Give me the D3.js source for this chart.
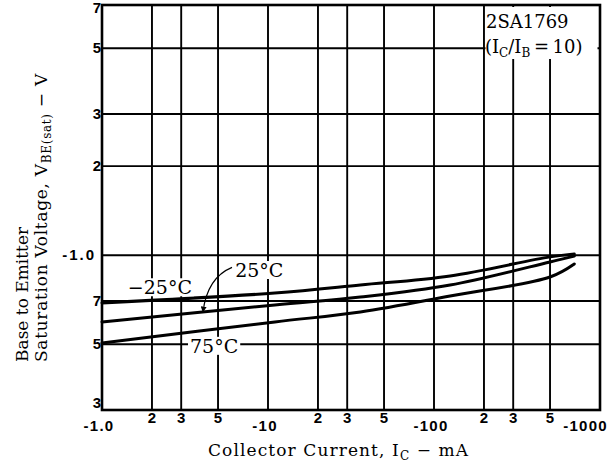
<!DOCTYPE html>
<html>
<head>
<meta charset="utf-8" />
<title>2SA1769 VBE(sat) - IC</title>
<script src="https://d3js.org/d3.v7.min.js"></script>
<style>
  body { margin: 0; background: #fff; }
  .tick { font-family: "Liberation Sans", Arial, sans-serif; font-weight: bold; font-size: 15px; }
  .serif { font-family: "DejaVu Serif", serif; }
</style>
</head>
<body>
<div id="chart"></div>
<script>
// collector current, mA (shown as negative on the axis)
const current = [1, 11, 36, 125, 500, 700];

// base-emitter saturation voltage, V (magnitude)
const vMinus25 = [0.690, 0.745, 0.793, 0.851, 0.987, 1.01];
const v25 = [0.595, 0.679, 0.722, 0.793, 0.949, 0.993];
const v75 = [0.505, 0.595, 0.643, 0.728, 0.844, 0.934];

// tick values and labels
const xTicks = [1, 2, 3, 5, 10, 20, 30, 50, 100, 200, 300, 500, 1000];
const xTickLabels = ['-1.0', '2', '3', '5', '-10', '2', '3', '5', '-100', '2', '3', '5', '-1000'];
const yTicks = [0.3, 0.5, 0.7, 1, 2, 3, 5, 7];
const yTickLabels = ['3', '5', '7', '-1.0', '2', '3', '5', '7'];

const width = 614;
const height = 465;
const pLeft = 102, pRight = 600, pTop = 5, pBottom = 410;

const svg = d3.select('#chart')
  .append('svg')
  .attr('width', width)
  .attr('height', height);

const x = d3.scaleLog().domain([1, 1000]).range([pLeft, pRight]);
const y = d3.scaleLog().domain([0.3, 7]).range([pBottom, pTop]);

// grid
const grid = svg.append('g').attr('stroke', '#000').attr('stroke-width', 1.9);
grid.selectAll('.vx')
  .data(xTicks)
  .enter()
  .append('line')
  .attr('x1', d => x(d)).attr('x2', d => x(d))
  .attr('y1', pTop).attr('y2', pBottom);
grid.selectAll('.hy')
  .data(yTicks)
  .enter()
  .append('line')
  .attr('x1', pLeft).attr('x2', pRight)
  .attr('y1', d => y(d)).attr('y2', d => y(d));

// frame
svg.append('rect')
  .attr('x', pLeft).attr('y', pTop)
  .attr('width', pRight - pLeft).attr('height', pBottom - pTop)
  .attr('fill', 'none').attr('stroke', '#000').attr('stroke-width', 2.6);

// tick labels
const isDecade = i => xTickLabels[i][0] === '-';
svg.selectAll('.xl')
  .data(xTicks)
  .enter()
  .append('text')
  .attr('class', 'tick')
  .attr('x', (d, i) => {
    if (d === 1000) return x(d) + 8;
    if (isDecade(i)) return x(d) - 3;
    return x(d);
  })
  .attr('y', (d, i) => isDecade(i) ? 431 : 423)
  .attr('text-anchor', d => d === 1000 ? 'end' : 'middle')
  .attr('letter-spacing', (d, i) => isDecade(i) ? 1.3 : 0)
  .text((d, i) => xTickLabels[i]);

svg.selectAll('.yl')
  .data(yTicks)
  .enter()
  .append('text')
  .attr('class', 'tick')
  .attr('x', d => d === 1 ? pLeft - 6 : pLeft - 1)
  .attr('y', d => y(d) + (d === 0.3 ? -2 : d === 7 ? 8 : 5))
  .attr('text-anchor', 'end')
  .attr('letter-spacing', d => d === 1 ? 2 : 0)
  .text((d, i) => yTickLabels[i]);

// legend box
svg.append('rect')
  .attr('x', x(200) + 1.5).attr('y', pTop + 2)
  .attr('width', pRight - x(200) - 4).attr('height', 52)
  .attr('fill', '#fff');
svg.append('text')
  .attr('class', 'serif')
  .attr('x', x(200) + 2).attr('y', 28)
  .style('font-size', '18px')
  .text('2SA1769');
const leg2 = svg.append('text')
  .attr('class', 'serif')
  .attr('x', x(200) + 1).attr('y', 53)
  .style('font-size', '18px');
leg2.append('tspan').text('(I');
leg2.append('tspan').attr('dy', 4).style('font-size', '12px').text('C');
leg2.append('tspan').attr('dy', -4).text('/I');
leg2.append('tspan').attr('dy', 4).style('font-size', '12px').text('B');
leg2.append('tspan').attr('dy', -4).text('\u2009=\u200910)');

// curves
const line = d3.line()
  .x(d => x(d[0]))
  .y(d => y(d[1]))
  .curve(d3.curveCatmullRom.alpha(0.5));

[vMinus25, v25, v75].forEach(series => {
  svg.append('path')
    .datum(current.map((c, i) => [c, series[i]]))
    .attr('d', line)
    .attr('fill', 'none')
    .attr('stroke', '#000')
    .attr('stroke-width', 3)
    .attr('stroke-linecap', 'round');
});

// curve labels
const labels = [
  { text: '\u221225\u00b0C', i: 1.43, v: 0.738 },
  { text: '25\u00b0C', i: 6.34, v: 0.844 },
  { text: '75\u00b0C', i: 3.39, v: 0.468 },
];
labels.forEach(l => {
  const t = svg.append('text')
    .attr('class', 'serif')
    .attr('x', x(l.i)).attr('y', y(l.v))
    .style('font-size', '19px')
    .text(l.text);
  const b = t.node().getBBox();
  svg.insert('rect', () => t.node())
    .attr('x', b.x - 2).attr('y', b.y + 2)
    .attr('width', b.width + 4).attr('height', b.height - 4)
    .attr('fill', '#fff');
});

// arrow to the 25°C curve
svg.append('defs').append('marker')
  .attr('id', 'arr')
  .attr('viewBox', '0 0 10 10')
  .attr('refX', 9).attr('refY', 5)
  .attr('markerWidth', 5).attr('markerHeight', 5)
  .attr('orient', 'auto')
  .append('path')
  .attr('d', 'M0,0 L10,5 L0,10 z')
  .attr('fill', '#000');
svg.append('path')
  .attr('d', `M${x(6.07)},${y(0.91)} Q${x(4.3)},${y(0.84)} ${x(4.06)},${y(0.643)}`)
  .attr('fill', 'none')
  .attr('stroke', '#000')
  .attr('stroke-width', 1.2)
  .attr('marker-end', 'url(#arr)');

// axis titles
const xt = svg.append('text')
  .attr('class', 'serif')
  .attr('x', 208).attr('y', 456)
  .attr('letter-spacing', 1.1)
  .style('font-size', '17px');
xt.append('tspan').text('Collector Current, I');
xt.append('tspan').attr('dy', 4).style('font-size', '12px').text('C');
xt.append('tspan').attr('dy', -4).text(' \u2212 mA');

const yt = svg.append('text')
  .attr('class', 'serif')
  .attr('transform', 'translate(28,362) rotate(-90)')
  .style('font-size', '17px');
yt.append('tspan').text('Base to Emitter');
const yt2 = svg.append('text')
  .attr('class', 'serif')
  .attr('transform', 'translate(47,362) rotate(-90)')
  .attr('letter-spacing', 0.7)
  .style('font-size', '17px');
yt2.append('tspan').text('Saturation Voltage, V');
yt2.append('tspan').attr('dy', 4).style('font-size', '12px').text('BE(sat)');
yt2.append('tspan').attr('dy', -4).text(' \u2212 V');
</script>
</body>
</html>
